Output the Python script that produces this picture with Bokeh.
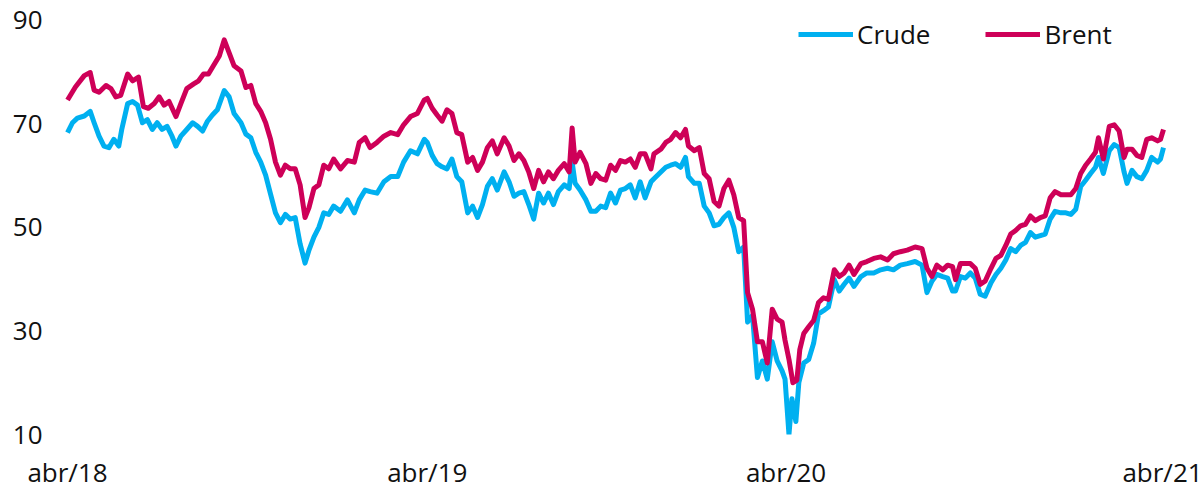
from bokeh.plotting import figure
from bokeh.models import Range1d, FixedTicker, Legend, LegendItem
from bokeh.embed import file_html
from bokeh.resources import INLINE

# days since 2018-04-02
brent_days = [0, 8, 17, 23, 27, 32, 39, 44, 49, 54, 61, 66, 72, 77, 82, 88, 93, 98, 103, 110,
              115, 121, 128, 133, 138, 143, 148, 154, 159, 164, 169, 176, 181,
              186, 191, 196, 201, 206, 211, 216, 221, 226, 231, 236, 241, 245, 250, 255, 260,
              265, 270, 277, 284, 291, 296, 302, 307, 314, 321, 328, 335, 341, 348, 355, 362,
              365, 370, 375, 380, 385, 390, 395, 400, 406, 411, 416, 421, 426, 431, 436, 443,
              448, 453, 458, 463, 468, 473, 478, 483, 488, 493, 498, 504, 509, 512, 515, 520,
              526, 531, 536, 541,
              546, 551, 556, 561, 566, 571, 576, 581, 586, 592, 595, 602, 607, 612, 617, 622,
              627, 630, 636, 641, 646, 651, 656, 661, 666, 671, 676, 681, 686, 690, 695, 700,
              705, 710, 715, 720, 725,
              728, 732, 736, 740, 743, 747, 752, 757, 762, 767, 772, 778, 783, 788, 793, 798,
              805, 811, 818, 825, 832, 838, 845, 852, 860, 867, 872, 877, 882, 888, 893, 898,
              901, 906,
              911, 916, 921, 926, 931, 937, 942, 947, 952, 957, 962, 967, 972, 977, 982, 987,
              992, 997, 1002, 1008, 1013, 1018, 1023, 1028, 1033, 1038, 1043, 1046, 1051, 1057,
              1062, 1067, 1072, 1075, 1080, 1085, 1090, 1095, 1100, 1106, 1109, 1112]
brent = [74.6, 77.1, 79.3, 79.9, 76.5, 76.1, 77.4, 76.8, 75.2, 75.5, 79.6, 78.3, 79.0, 73.3, 73.0,
         73.9, 75.2, 73.6, 74.3, 71.4, 73.9, 76.8, 77.7, 78.3, 79.6, 79.6, 81.2, 83.1, 86.2, 83.7,
         81.2, 80.2, 77.0,
         77.4, 73.9, 72.4, 70.2, 67.0, 62.6, 60.1, 62.0, 61.3, 61.3, 58.2, 51.9, 53.8, 57.5, 58.2,
         62.0, 61.3, 63.2, 61.3, 62.9, 62.6, 66.4, 67.3, 65.4, 66.4, 67.6, 68.3, 67.9, 69.8, 71.4,
         72.0, 74.6,
         74.9, 73.0, 71.7, 70.5, 72.7, 72.0, 68.3, 67.9, 62.6, 63.5, 61.0, 62.6, 65.4, 66.7, 64.2,
         67.3, 65.7, 62.9, 64.2, 62.9, 60.7, 57.5, 61.0, 58.8, 60.7, 59.4, 61.0, 62.3, 60.7, 69.2,
         62.6, 64.5, 62.3, 58.5, 60.4, 59.4,
         59.1, 62.0, 61.0, 62.9, 62.6, 63.2, 61.6, 64.2, 64.2, 61.3, 64.2, 65.1, 66.4, 67.0, 68.3,
         67.3, 68.9, 65.7, 64.8, 65.4, 60.4, 59.4, 55.0, 54.1, 57.5, 59.1, 56.3, 51.9, 51.3, 37.4,
         34.2, 27.9, 27.9, 23.8, 34.2, 32.3, 31.7,
         28.2, 24.5, 20.0, 20.5, 26.4, 29.5, 30.8, 32.0, 35.5, 36.4, 36.1, 41.8, 40.5, 41.2, 42.7,
         40.9, 43.0, 43.4, 44.0, 44.3, 43.7, 44.9, 45.3, 45.6, 46.2, 45.9, 42.1, 40.5, 42.7, 41.8,
         42.7, 42.4, 39.9, 43.0,
         43.0, 43.0, 42.1, 39.0, 39.6, 42.1, 44.0, 44.6, 46.5, 48.7, 49.4, 50.3, 50.6, 52.2, 51.3,
         51.9, 52.2, 55.7, 56.9, 56.3, 56.3, 56.3, 57.5, 60.4, 62.0, 63.2, 64.5, 67.3, 63.2, 69.5,
         69.8, 68.6, 63.5, 65.1, 65.1, 63.9, 63.5, 67.0, 67.3, 66.7, 67.0, 68.9]

crude_days = [0, 5, 10, 17, 23, 27, 32, 37, 42, 47, 52, 55, 61, 66, 71, 76, 81, 86, 91, 96, 101,
              106, 110, 115, 121, 127, 132, 137, 142, 147, 152, 159, 164, 169, 176, 181,
              186, 191, 196, 201, 206, 211, 216, 221, 226, 231, 236, 241, 245, 250, 255, 260,
              265, 270, 277, 284, 291, 296, 302, 307, 314, 321, 328, 335, 341, 348, 355, 362,
              365, 370, 375, 380, 385, 390, 395, 400, 406, 411, 416, 421, 426, 431, 436, 443,
              448, 453, 458, 463, 468, 473, 478, 483, 488, 493, 498, 504, 509, 512, 515, 520,
              526, 531, 536, 541,
              546, 551, 556, 561, 566, 571, 576, 581, 586, 592, 595, 602, 607, 612, 617, 622,
              627, 630, 636, 641, 646, 651, 656, 661, 666, 671, 676, 681, 686, 690, 695, 700,
              705, 710, 715, 720, 725,
              728, 732, 735, 739, 742, 747, 752, 757, 762, 767, 772, 778, 783, 788, 793, 798,
              805, 811, 818, 825, 832, 838, 845, 852, 860, 867, 872, 877, 882, 888, 893, 898,
              901, 906,
              911, 916, 921, 926, 931, 937, 942, 947, 952, 957, 962, 967, 972, 977, 982, 987,
              992, 997, 1002, 1008, 1013, 1018, 1023, 1028, 1033, 1038, 1043, 1046, 1051, 1057,
              1062, 1067, 1072, 1075, 1080, 1085, 1090, 1095, 1100, 1106, 1109, 1112]
crude = [68.3, 70.2, 71.1, 71.5, 72.4, 70.2, 67.6, 65.7, 65.4, 67.0, 65.7, 68.9, 73.9, 74.3, 73.6,
         70.2, 70.8, 68.9, 70.2, 68.9, 69.5, 67.6, 65.7, 67.6, 68.9, 70.2, 69.5, 68.6, 70.5, 71.7,
         72.7, 76.4, 75.2, 72.0, 70.2, 68.0,
         67.3, 64.5, 62.6, 60.1, 56.4, 52.8, 50.9, 52.5, 51.6, 51.9, 46.8, 43.1, 45.6, 48.1, 50.0,
         52.8, 52.5, 54.1, 53.1, 55.3, 52.8, 55.3, 57.2, 56.9, 56.6, 58.8, 59.8, 59.8, 62.6, 64.8,
         64.2, 67.0,
         66.4, 63.9, 62.3, 61.7, 61.3, 63.2, 59.8, 58.8, 52.8, 54.1, 51.9, 54.4, 57.9, 59.4, 57.2,
         60.7, 58.8, 56.0, 56.6, 56.9, 54.4, 51.6, 56.6, 54.7, 56.6, 54.4, 56.9, 58.2, 57.5, 62.6,
         58.5, 57.2, 55.3, 53.1, 53.1, 54.1,
         53.8, 56.6, 54.7, 57.2, 57.5, 58.2, 55.7, 58.8, 55.7, 58.8, 59.4, 60.7, 61.6, 62.0, 62.3,
         61.6, 63.5, 59.8, 58.5, 58.5, 54.1, 52.8, 50.3, 50.6, 51.9, 52.8, 50.0, 45.3, 46.2, 31.7,
         33.0, 21.0, 24.2, 20.7, 27.9, 24.2, 22.3,
         20.7, 10.0, 16.9, 12.5, 20.0, 23.8, 24.5, 27.6, 33.3, 33.9, 34.6, 39.9, 37.7, 39.0, 40.2,
         38.6, 40.5, 41.2, 41.2, 41.8, 42.1, 41.8, 42.7, 43.0, 43.4, 42.7, 37.4, 39.6, 40.9, 40.5,
         40.2, 37.7, 37.7, 40.5,
         40.2, 41.2, 40.2, 37.1, 36.7, 39.3, 40.9, 42.1, 43.7, 45.9, 45.3, 46.5, 47.1, 49.0, 48.1,
         48.4, 48.7, 51.6, 53.1, 52.8, 52.8, 52.5, 53.5, 57.9, 59.1, 60.4, 61.6, 63.5, 60.4, 64.8,
         66.0, 65.4, 60.7, 58.5, 61.0, 59.8, 59.4, 61.0, 63.5, 62.6, 63.2, 65.4]

y_ticks = [10, 30, 50, 70, 90]
x_tick_days = [0, 365, 729, 1111]
x_tick_labels = ["abr/18", "abr/19", "abr/20", "abr/21"]
series_names = ["Crude", "Brent"]

CRUDE_COLOR = "#00B0F0"
BRENT_COLOR = "#CE0058"
FONT = "Open Sans"
FS = "26px"

p = figure(width=1204, height=492, output_backend="svg", toolbar_location=None,
           x_range=Range1d(-12.2, 1139.4), y_range=Range1d(10, 92.84),
           min_border_left=55, min_border_right=14, min_border_top=5, min_border_bottom=49)
p.outline_line_color = None
p.xgrid.visible = False
p.ygrid.visible = False
p.background_fill_color = "white"
p.border_fill_color = "white"

r1 = p.line(crude_days, crude, line_color=CRUDE_COLOR, line_width=5, line_join="round")
r2 = p.line(brent_days, brent, line_color=BRENT_COLOR, line_width=5, line_join="round")

for ax in (p.xaxis[0], p.yaxis[0]):
    ax.axis_line_color = None
    ax.major_tick_line_color = None
    ax.minor_tick_line_color = None
    ax.major_tick_out = 0
    ax.major_tick_in = 0
    ax.minor_tick_out = 0
    ax.major_label_text_font = FONT
    ax.major_label_text_font_size = FS
    ax.major_label_text_color = "#111111"

p.yaxis[0].ticker = FixedTicker(ticks=y_ticks)
p.yaxis[0].major_label_standoff = 13
p.xaxis[0].ticker = FixedTicker(ticks=x_tick_days)
p.xaxis[0].major_label_overrides = {d: l for d, l in zip(x_tick_days, x_tick_labels)}
p.xaxis[0].major_label_standoff = 19

legend = Legend(items=[LegendItem(label=series_names[0], renderers=[r1]),
                       LegendItem(label=series_names[1], renderers=[r2])],
                orientation="horizontal", location=(743, 382),
                glyph_width=55, glyph_height=30, label_height=30, label_standoff=4,
                spacing=55, padding=0, margin=0,
                border_line_alpha=0, background_fill_alpha=0,
                label_text_font=FONT, label_text_font_size=FS, label_text_color="#111111")
p.add_layout(legend, "center")

open("out.html", "w").write(file_html(p, INLINE))
